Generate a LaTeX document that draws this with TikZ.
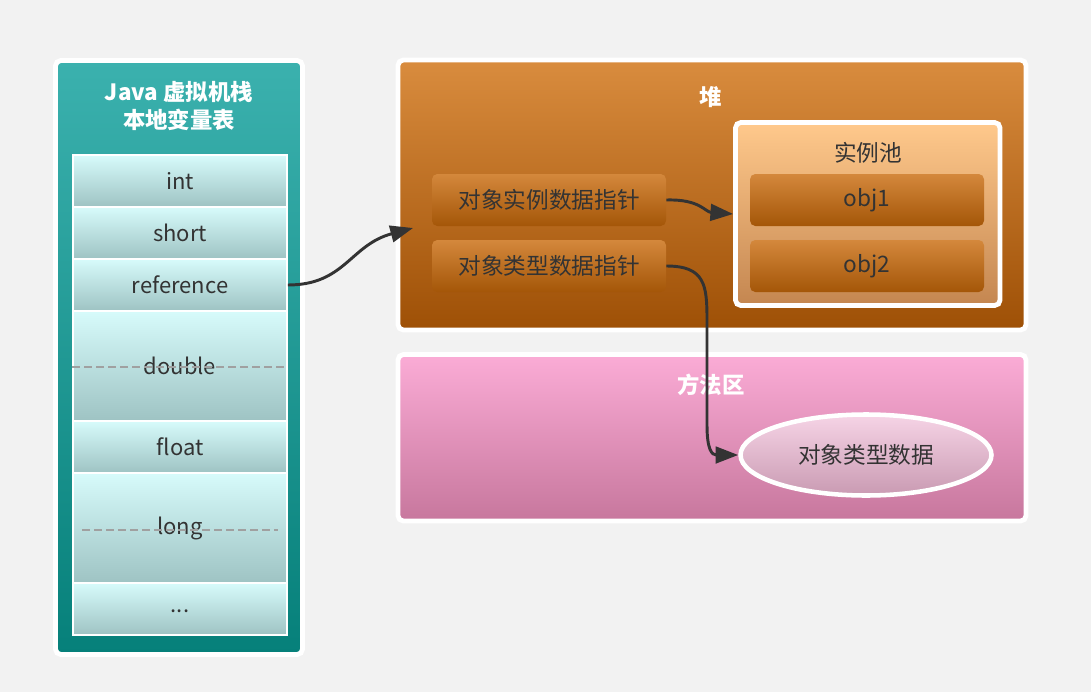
\documentclass[tikz,border=0pt]{standalone}
\usepackage{fontspec}
\setmainfont{Noto Sans CJK SC}
\usetikzlibrary{arrows.meta,shapes.geometric}
\definecolor{bg}{HTML}{F2F2F2}
\definecolor{tealtop}{HTML}{3BB1AE}
\definecolor{tealbot}{HTML}{06807A}
\definecolor{celltop}{HTML}{D7FBFB}
\definecolor{cellbot}{HTML}{9EC3C3}
\definecolor{orgtop}{HTML}{D98C3E}
\definecolor{orgbot}{HTML}{9E5006}
\definecolor{boxtop}{HTML}{D4883C}
\definecolor{boxbot}{HTML}{A45608}
\definecolor{pooltop}{HTML}{FFC98C}
\definecolor{poolbot}{HTML}{C48650}
\definecolor{pinktop}{HTML}{FBACD6}
\definecolor{pinkbot}{HTML}{C7779D}
\definecolor{elltop}{HTML}{F6D4E6}
\definecolor{ellbot}{HTML}{C99AB2}
\definecolor{txt}{HTML}{333333}
\definecolor{dashc}{HTML}{A0A0A0}
\tikzset{
  panel/.style={draw=white, line width=3.6pt, rounded corners=4pt, inner sep=0pt},
  cell/.style={draw=white, line width=1.2pt, top color=celltop, bottom color=cellbot,
    minimum width=214*0.75pt, inner sep=0pt, text=txt, font=\fontsize{16.5pt}{18pt}\selectfont},
  innerbox/.style={rounded corners=4pt, top color=boxtop, bottom color=boxbot,
    minimum width=234*0.75pt, minimum height=52*0.75pt, inner sep=0pt, text=txt,
    font=\fontsize{17pt}{18pt}\selectfont},
  title/.style={text=white, font=\bfseries\fontsize{16.8pt}{21pt}\selectfont, align=center},
  conn/.style={draw=txt, line width=2.2pt, -{Triangle[length=17pt,width=12.5pt]}},
  sep/.style={draw=dashc, line width=1pt, dash pattern=on 6pt off 3pt}
}
\begin{document}
\begin{tikzpicture}[x=0.75pt,y=-0.75pt]
\useasboundingbox[fill=bg] (0,0) rectangle (1091,692);
% Java stack panel
\node[panel, top color=tealtop, bottom color=tealbot, minimum width=247*0.75pt, minimum height=594*0.75pt] (stack) at (179,357.5) {};
\node[title] (stacktitle) at (179,106) {Java 虚拟机栈\\本地变量表};
\node[cell, minimum height=52*0.75pt] (int) at (180,181) {int};
\node[cell, minimum height=52*0.75pt] (short) at (180,233) {short};
\node[cell, minimum height=52*0.75pt] (ref) at (180,285) {reference};
\node[cell, minimum height=110*0.75pt] (double) at (180,366) {double};
\node[cell, minimum height=52*0.75pt] (float) at (180,447) {float};
\node[cell, minimum height=110*0.75pt] (long) at (180,528) {\raisebox{-2pt}{long}};
\node[cell, minimum height=52*0.75pt] (more) at (180,609) {\raisebox{-5pt}{...}};
\draw[sep] (double.west |- 0,367) -- (double.east |- 0,367);
\draw[sep] ([xshift=7.5pt]long.west |- 0,530) -- ([xshift=-7.5pt]long.east |- 0,530);
% Heap
\node[panel, top color=orgtop, bottom color=orgbot, minimum width=628*0.75pt, minimum height=270*0.75pt] (heap) at (712,195) {};
\node[title] (heaptitle) at (711,97) {堆};
\node[innerbox] (ptr1) at (549,200) {对象实例数据指针};
\node[innerbox] (ptr2) at (549,266) {对象类型数据指针};
\node[panel, top color=pooltop, bottom color=poolbot, minimum width=264.5*0.75pt, minimum height=183*0.75pt] (pool) at (867.75,214) {};
\node[text=txt, font=\fontsize{17pt}{18pt}\selectfont] (pooltitle) at (868,153) {实例池};
\node[innerbox] (obj1) at (867,200) {obj1};
\node[innerbox] (obj2) at (867,266) {obj2};
% Method area
\node[panel, top color=pinktop, bottom color=pinkbot, minimum width=628*0.75pt, minimum height=166.5*0.75pt] (method) at (712,437.75) {};
\node[title] (methodtitle) at (711,385) {方法区};
\node[ellipse, draw=white, line width=3.4pt, top color=elltop, bottom color=ellbot,
  minimum width=251*0.75pt, minimum height=81*0.75pt, inner sep=0pt, text=txt,
  font=\fontsize{17pt}{18pt}\selectfont] (typedata) at (866,455) {对象类型数据};
% connectors
\coordinate (heapin) at (413,228);
\draw[conn] (ref.east) .. controls (345,285) and (350,245) .. (heapin);
\draw[conn] (ptr1.east) .. controls (700,199) and (705,212) .. (pool.west);
\draw[conn] (ptr2.east) .. controls (705,266) and (707,285) .. (707,320)
  -- (707,425) .. controls (707,450) and (712,455) .. (typedata.west);
\end{tikzpicture}
\end{document}
